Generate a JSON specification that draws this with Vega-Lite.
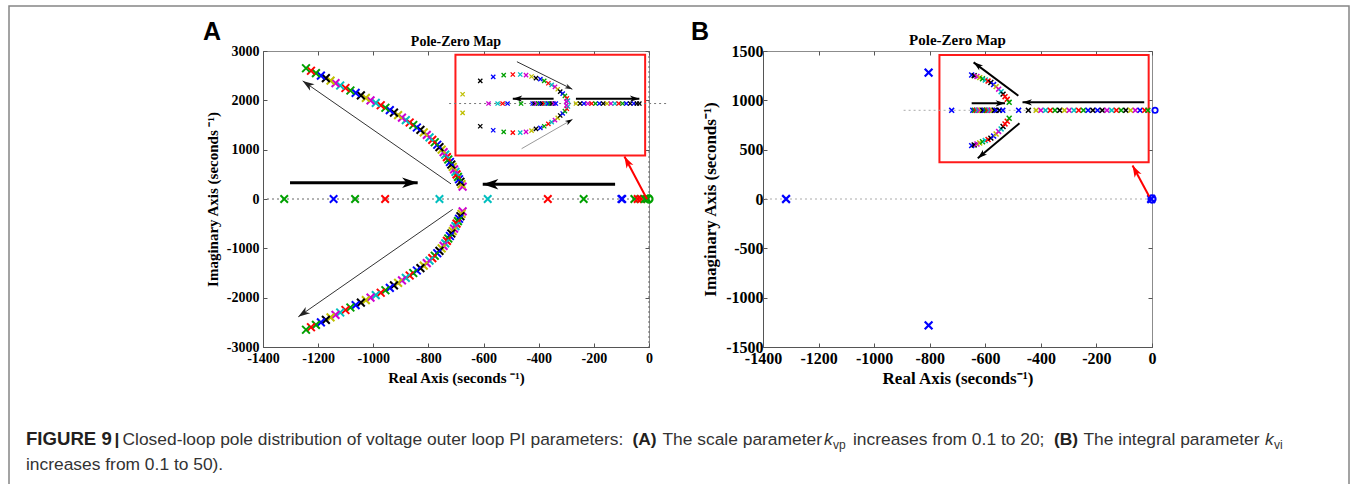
{
"$schema": "https://vega.github.io/schema/vega-lite/v6.json",
"autosize": {"type": "pad"},
"padding": {"left": 7, "top": 4, "right": 7, "bottom": 0},
"background": "white",
"config": {
  "view": {"stroke": "#8c8c8c", "strokeWidth": 1},
  "axis": {"labelFont": "Liberation Serif", "labelFontWeight": "bold", "labelColor": "#000", "titleFont": "Liberation Serif", "titleFontWeight": "bold", "titleColor": "#000", "domainColor": "#555", "tickColor": "#555", "grid": false, "labelFlush": false, "labelOverlap": false, "labelBound": false, "labelExpr": "'' + datum.value"}
},
"datasets": {
  "brA": [
    {"x":-676,"y":250,"c":"m"},{"x":-680,"y":300,"c":"y"},{"x":-684,"y":350,"c":"k"},{"x":-689,"y":400,"c":"b"},{"x":-693,"y":450,"c":"g"},{"x":-698,"y":500,"c":"r"},{"x":-702,"y":550,"c":"c"},{"x":-707,"y":600,"c":"m"},{"x":-712,"y":650,"c":"y"},{"x":-717,"y":700,"c":"k"},{"x":-722,"y":750,"c":"b"},{"x":-728,"y":800,"c":"g"},{"x":-733,"y":850,"c":"r"},{"x":-739,"y":900,"c":"c"},{"x":-745,"y":950,"c":"m"},{"x":-752,"y":1000,"c":"y"},{"x":-760,"y":1050,"c":"k"},{"x":-768,"y":1100,"c":"b"},{"x":-777,"y":1150,"c":"g"},{"x":-786,"y":1200,"c":"r"},{"x":-796,"y":1250,"c":"c"},{"x":-806,"y":1300,"c":"m"},{"x":-817,"y":1350,"c":"y"},{"x":-829,"y":1400,"c":"k"},{"x":-842,"y":1450,"c":"b"},{"x":-855,"y":1500,"c":"g"},{"x":-868,"y":1550,"c":"r"},{"x":-882,"y":1600,"c":"c"},{"x":-896,"y":1650,"c":"m"},{"x":-910,"y":1700,"c":"y"},{"x":-925,"y":1750,"c":"k"},{"x":-940,"y":1800,"c":"b"},{"x":-956,"y":1850,"c":"g"},{"x":-973,"y":1900,"c":"r"},{"x":-991,"y":1950,"c":"c"},{"x":-1010,"y":2000,"c":"m"},{"x":-1027,"y":2050,"c":"y"},{"x":-1045,"y":2100,"c":"k"},{"x":-1064,"y":2150,"c":"b"},{"x":-1083,"y":2200,"c":"g"},{"x":-1101,"y":2250,"c":"r"},{"x":-1120,"y":2300,"c":"c"},{"x":-1137,"y":2350,"c":"m"},{"x":-1155,"y":2400,"c":"y"},{"x":-1172,"y":2450,"c":"k"},{"x":-1190,"y":2500,"c":"b"},{"x":-1208,"y":2550,"c":"g"},{"x":-1226,"y":2600,"c":"r"},{"x":-1244,"y":2650,"c":"g"},
    {"x":-676,"y":-250,"c":"m"},{"x":-680,"y":-300,"c":"y"},{"x":-684,"y":-350,"c":"k"},{"x":-689,"y":-400,"c":"b"},{"x":-693,"y":-450,"c":"g"},{"x":-698,"y":-500,"c":"r"},{"x":-702,"y":-550,"c":"c"},{"x":-707,"y":-600,"c":"m"},{"x":-712,"y":-650,"c":"y"},{"x":-717,"y":-700,"c":"k"},{"x":-722,"y":-750,"c":"b"},{"x":-728,"y":-800,"c":"g"},{"x":-733,"y":-850,"c":"r"},{"x":-739,"y":-900,"c":"c"},{"x":-745,"y":-950,"c":"m"},{"x":-752,"y":-1000,"c":"y"},{"x":-760,"y":-1050,"c":"k"},{"x":-768,"y":-1100,"c":"b"},{"x":-777,"y":-1150,"c":"g"},{"x":-786,"y":-1200,"c":"r"},{"x":-796,"y":-1250,"c":"c"},{"x":-806,"y":-1300,"c":"m"},{"x":-817,"y":-1350,"c":"y"},{"x":-829,"y":-1400,"c":"k"},{"x":-842,"y":-1450,"c":"b"},{"x":-855,"y":-1500,"c":"g"},{"x":-868,"y":-1550,"c":"r"},{"x":-882,"y":-1600,"c":"c"},{"x":-896,"y":-1650,"c":"m"},{"x":-910,"y":-1700,"c":"y"},{"x":-925,"y":-1750,"c":"k"},{"x":-940,"y":-1800,"c":"b"},{"x":-956,"y":-1850,"c":"g"},{"x":-973,"y":-1900,"c":"r"},{"x":-991,"y":-1950,"c":"c"},{"x":-1010,"y":-2000,"c":"m"},{"x":-1027,"y":-2050,"c":"y"},{"x":-1045,"y":-2100,"c":"k"},{"x":-1064,"y":-2150,"c":"b"},{"x":-1083,"y":-2200,"c":"g"},{"x":-1101,"y":-2250,"c":"r"},{"x":-1120,"y":-2300,"c":"c"},{"x":-1137,"y":-2350,"c":"m"},{"x":-1155,"y":-2400,"c":"y"},{"x":-1172,"y":-2450,"c":"k"},{"x":-1190,"y":-2500,"c":"b"},{"x":-1208,"y":-2550,"c":"g"},{"x":-1226,"y":-2600,"c":"r"},{"x":-1244,"y":-2650,"c":"g"}
  ],
  "realA": [
    {"x":-1323,"y":0,"c":"g"},{"x":-1144,"y":0,"c":"b"},{"x":-1066,"y":0,"c":"g"},{"x":-957,"y":0,"c":"r"},{"x":-760,"y":0,"c":"c"},{"x":-585,"y":0,"c":"c"},{"x":-367,"y":0,"c":"r"},{"x":-237,"y":0,"c":"g"},{"x":-100,"y":0,"c":"b"},{"x":-97,"y":0,"c":"b"},{"x":-53,"y":0,"c":"g"},{"x":-41,"y":0,"c":"r"},{"x":-29,"y":0,"c":"r"},{"x":-15,"y":0,"c":"g"},{"x":-6,"y":0,"c":"g"}
  ],
  "zeroA": [{"x":0,"y":0,"c":"g"}],
  "inA": [
    {"x":-676,"y":2123,"c":"y"},{"x":-676,"y":1747,"c":"y"},
    {"x":-612,"y":2395,"c":"k"},{"x":-612,"y":1475,"c":"k"},
    {"x":-565,"y":2476,"c":"b"},{"x":-565,"y":1394,"c":"b"},
    {"x":-527,"y":2510,"c":"g"},{"x":-527,"y":1360,"c":"g"},
    {"x":-494,"y":2524,"c":"r"},{"x":-494,"y":1346,"c":"r"},
    {"x":-467,"y":2524,"c":"c"},{"x":-467,"y":1346,"c":"c"},
    {"x":-446,"y":2510,"c":"m"},{"x":-446,"y":1360,"c":"m"},
    {"x":-426,"y":2483,"c":"y"},{"x":-426,"y":1387,"c":"y"},
    {"x":-410,"y":2449,"c":"k"},{"x":-410,"y":1421,"c":"k"},
    {"x":-394,"y":2429,"c":"b"},{"x":-394,"y":1441,"c":"b"},
    {"x":-380,"y":2395,"c":"g"},{"x":-380,"y":1475,"c":"g"},
    {"x":-365,"y":2347,"c":"r"},{"x":-365,"y":1523,"c":"r"},
    {"x":-353,"y":2313,"c":"c"},{"x":-353,"y":1557,"c":"c"},
    {"x":-341,"y":2272,"c":"m"},{"x":-341,"y":1598,"c":"m"},
    {"x":-331,"y":2225,"c":"y"},{"x":-331,"y":1645,"c":"y"},
    {"x":-322,"y":2177,"c":"k"},{"x":-322,"y":1693,"c":"k"},
    {"x":-313,"y":2136,"c":"b"},{"x":-313,"y":1734,"c":"b"},
    {"x":-305,"y":2089,"c":"g"},{"x":-305,"y":1781,"c":"g"},
    {"x":-298,"y":2041,"c":"r"},{"x":-298,"y":1829,"c":"r"},
    {"x":-294,"y":1995,"c":"c"},{"x":-294,"y":1875,"c":"c"},
    {"x":-300,"y":1975,"c":"m"},{"x":-300,"y":1895,"c":"m"},
    {"x":-582,"y":1935,"c":"m"},{"x":-549,"y":1935,"c":"c"},{"x":-531,"y":1935,"c":"r"},{"x":-513,"y":1935,"c":"b"},{"x":-464,"y":1935,"c":"g"},
    {"x":-422,"y":1935,"c":"b"},{"x":-415,"y":1935,"c":"k"},{"x":-408,"y":1935,"c":"m"},{"x":-401,"y":1935,"c":"g"},{"x":-394,"y":1935,"c":"b"},{"x":-387,"y":1935,"c":"k"},{"x":-380,"y":1935,"c":"r"},{"x":-373,"y":1935,"c":"c"},{"x":-366,"y":1935,"c":"b"},{"x":-359,"y":1935,"c":"g"},{"x":-352,"y":1935,"c":"k"},{"x":-345,"y":1935,"c":"m"},{"x":-338,"y":1935,"c":"b"},
    {"x":-265,"y":1935,"c":"y"},{"x":-250,"y":1935,"c":"k"},{"x":-236,"y":1935,"c":"b"},{"x":-222,"y":1935,"c":"m"},{"x":-208,"y":1935,"c":"r"},{"x":-194,"y":1935,"c":"g"},{"x":-180,"y":1935,"c":"b"},{"x":-166,"y":1935,"c":"k"},{"x":-152,"y":1935,"c":"y"},{"x":-138,"y":1935,"c":"m"},{"x":-124,"y":1935,"c":"c"},{"x":-110,"y":1935,"c":"r"},{"x":-96,"y":1935,"c":"g"},{"x":-82,"y":1935,"c":"b"},{"x":-68,"y":1935,"c":"k"},{"x":-55,"y":1935,"c":"b"},{"x":-44,"y":1935,"c":"k"},{"x":-35,"y":1935,"c":"k"}
  ],
  "arrA": [
    {"x":-718,"y":306,"x2":-1256,"y2":2394,"dir":304.6,"k":"thin"},
    {"x":-712,"y":-210,"x2":-1272,"y2":-2388,"dir":235.4,"k":"thin"},
    {"x":-1302,"y":330,"x2":-839,"y2":330,"dir":90,"k":"thick"},
    {"x":-123,"y":300,"x2":-603,"y2":300,"dir":270,"k":"thick"},
    {"x":-7,"y":-6,"x2":-89,"y2":863,"dir":332,"k":"red"},
    {"x":-479,"y":2783,"x2":-278,"y2":2225,"dir":116.2,"k":"ithin"},
    {"x":-462,"y":1020,"x2":-277,"y2":1615,"dir":60.2,"k":"igray"},
    {"x":-346,"y":2034,"x2":-494,"y2":2034,"dir":270,"k":"ithick"},
    {"x":-265,"y":2034,"x2":-35,"y2":2034,"dir":90,"k":"ithick"}
  ],
  "mainB": [{"x":-1317,"y":0,"c":"b"},{"x":-804,"y":1280,"c":"b"},{"x":-804,"y":-1280,"c":"b"},{"x":-3,"y":0,"c":"b"}],
  "zeroB": [{"x":0,"y":0,"c":"b"}],
  "inBz": [{"x":11,"y":899,"c":"b"}],
  "inB": [
    {"x":-649,"y":1257,"c":"b"},{"x":-649,"y":541,"c":"b"},
    {"x":-640,"y":1250,"c":"k"},{"x":-640,"y":548,"c":"k"},
    {"x":-630,"y":1241,"c":"m"},{"x":-630,"y":557,"c":"m"},
    {"x":-620,"y":1230,"c":"y"},{"x":-620,"y":568,"c":"y"},
    {"x":-610,"y":1218,"c":"g"},{"x":-610,"y":580,"c":"g"},
    {"x":-600,"y":1206,"c":"c"},{"x":-600,"y":592,"c":"c"},
    {"x":-590,"y":1195,"c":"r"},{"x":-590,"y":603,"c":"r"},
    {"x":-580,"y":1181,"c":"k"},{"x":-580,"y":617,"c":"k"},
    {"x":-570,"y":1160,"c":"b"},{"x":-570,"y":638,"c":"b"},
    {"x":-561,"y":1139,"c":"y"},{"x":-561,"y":659,"c":"y"},
    {"x":-552,"y":1113,"c":"m"},{"x":-552,"y":685,"c":"m"},
    {"x":-543,"y":1088,"c":"c"},{"x":-543,"y":710,"c":"c"},
    {"x":-536,"y":1063,"c":"k"},{"x":-536,"y":735,"c":"k"},
    {"x":-529,"y":1037,"c":"r"},{"x":-529,"y":761,"c":"r"},
    {"x":-521,"y":1010,"c":"r"},{"x":-521,"y":788,"c":"r"},
    {"x":-514,"y":980,"c":"g"},{"x":-514,"y":818,"c":"g"},
    {"x":-721,"y":899,"c":"b"},
    {"x":-645,"y":899,"c":"b"},{"x":-639,"y":899,"c":"g"},{"x":-633,"y":899,"c":"r"},{"x":-627,"y":899,"c":"c"},{"x":-621,"y":899,"c":"m"},{"x":-615,"y":899,"c":"y"},{"x":-609,"y":899,"c":"k"},{"x":-603,"y":899,"c":"b"},{"x":-597,"y":899,"c":"g"},{"x":-591,"y":899,"c":"r"},{"x":-585,"y":899,"c":"c"},{"x":-579,"y":899,"c":"m"},{"x":-573,"y":899,"c":"y"},{"x":-567,"y":899,"c":"k"},{"x":-561,"y":899,"c":"b"},{"x":-549,"y":899,"c":"k"},{"x":-537,"y":899,"c":"b"},{"x":-480,"y":899,"c":"b"},{"x":-445,"y":899,"c":"k"},
    {"x":-417,"y":899,"c":"y"},{"x":-400,"y":899,"c":"m"},{"x":-383,"y":899,"c":"c"},{"x":-366,"y":899,"c":"r"},{"x":-349,"y":899,"c":"g"},{"x":-332,"y":899,"c":"k"},{"x":-315,"y":899,"c":"y"},{"x":-298,"y":899,"c":"m"},{"x":-281,"y":899,"c":"c"},{"x":-264,"y":899,"c":"r"},{"x":-247,"y":899,"c":"g"},{"x":-230,"y":899,"c":"b"},{"x":-213,"y":899,"c":"k"},{"x":-196,"y":899,"c":"b"},{"x":-179,"y":899,"c":"k"},{"x":-162,"y":899,"c":"m"},{"x":-145,"y":899,"c":"c"},{"x":-128,"y":899,"c":"r"},{"x":-111,"y":899,"c":"g"},{"x":-94,"y":899,"c":"k"},{"x":-77,"y":899,"c":"y"},{"x":-60,"y":899,"c":"m"},{"x":-43,"y":899,"c":"b"},{"x":-26,"y":899,"c":"r"},{"x":-15,"y":899,"c":"g"}
  ],
  "arrB": [
    {"x":-481,"y":1047,"x2":-642,"y2":1385,"dir":306.8,"k":"ithick"},
    {"x":-477,"y":767,"x2":-627,"y2":413,"dir":230,"k":"ithick"},
    {"x":-649,"y":970,"x2":-529,"y2":970,"dir":90,"k":"ithick"},
    {"x":-28,"y":980,"x2":-466,"y2":980,"dir":270,"k":"ithick"},
    {"x":-10,"y":25,"x2":-70,"y2":339,"dir":331.7,"k":"red"}
  ]
},
"hconcat": [
  {
    "width": 386, "height": 296,
    "layer": [
      {
        "data": {"values": [{}]},
        "layer": [
          {"mark": {"type": "rule", "strokeDash": [2, 3], "color": "#666", "strokeWidth": 1},
           "encoding": {"y": {"datum": 0, "type": "quantitative", "scale": {"domain": [-3000, 3000], "nice": false, "zero": false}, "axis": null}}},
          {"mark": {"type": "rule", "strokeDash": [2, 3], "color": "#666", "strokeWidth": 1},
           "encoding": {"x": {"datum": 0, "type": "quantitative", "scale": {"domain": [-1400, 0], "nice": false, "zero": false}, "axis": null}}},
          {"mark": {"type": "rect", "fill": "white", "stroke": "#ff1a1a", "strokeWidth": 2},
           "encoding": {"x": {"datum": -702, "type": "quantitative", "scale": {"domain": [-1400, 0], "nice": false, "zero": false}, "axis": null}, "x2": {"datum": -14},
                        "y": {"datum": 884, "type": "quantitative", "scale": {"domain": [-3000, 3000], "nice": false, "zero": false}, "axis": null}, "y2": {"datum": 2925}}},
          {"mark": {"type": "rule", "strokeDash": [2, 3], "color": "#777", "strokeWidth": 1, "clip": false},
           "encoding": {"x": {"datum": -725, "type": "quantitative", "scale": {"domain": [-1400, 0], "nice": false, "zero": false}, "axis": null}, "x2": {"datum": 62},
                        "y": {"datum": 1935, "type": "quantitative", "scale": {"domain": [-3000, 3000], "nice": false, "zero": false}, "axis": null}}},
          {"data": {"name": "inA"},
           "mark": {"type": "point", "shape": "M-1,-1L1,1M-1,1L1,-1", "filled": false, "size": 18, "strokeWidth": 1.3, "opacity": 1},
           "encoding": {"x": {"field": "x", "type": "quantitative", "scale": {"domain": [-1400, 0], "nice": false, "zero": false}, "axis": null},
                        "y": {"field": "y", "type": "quantitative", "scale": {"domain": [-3000, 3000], "nice": false, "zero": false}, "axis": null},
                        "stroke": {"field": "c", "type": "nominal", "scale": {"domain": ["b","g","r","c","m","y","k"], "range": ["#0000ff","#00a000","#ff0000","#00bfbf","#d000d0","#bfbf00","#000000"]}, "legend": null}}},
          {"data": {"name": "realA"},
           "mark": {"type": "point", "shape": "M-1,-1L1,1M-1,1L1,-1", "filled": false, "size": 56, "strokeWidth": 2, "opacity": 1},
           "encoding": {"x": {"field": "x", "type": "quantitative", "scale": {"domain": [-1400, 0], "nice": false, "zero": false},
                              "axis": {"orient": "top", "labels": false, "title": null, "domain": false, "tickSize": -4, "values": [-1400,-1200,-1000,-800,-600,-400,-200,0]}},
                        "y": {"field": "y", "type": "quantitative", "scale": {"domain": [-3000, 3000], "nice": false, "zero": false},
                              "axis": {"orient": "right", "labels": false, "title": null, "domain": false, "tickSize": -4, "values": [-3000,-2000,-1000,0,1000,2000,3000]}},
                        "stroke": {"field": "c", "type": "nominal", "legend": null}}},
          {"data": {"name": "brA"},
           "mark": {"type": "point", "shape": "M-1,-1L1,1M-1,1L1,-1", "filled": false, "size": 60, "strokeWidth": 2, "opacity": 1},
           "encoding": {"x": {"field": "x", "type": "quantitative", "scale": {"domain": [-1400, 0], "nice": false, "zero": false},
                              "axis": {"orient": "bottom", "values": [-1400,-1200,-1000,-800,-600,-400,-200,0], "title": "Real Axis (seconds ⁻¹)", "labelFontSize": 14, "titleFontSize": 15, "tickSize": -4, "labelPadding": 8, "titlePadding": 5}},
                        "y": {"field": "y", "type": "quantitative", "scale": {"domain": [-3000, 3000], "nice": false, "zero": false},
                              "axis": {"orient": "left", "values": [-3000,-2000,-1000,0,1000,2000,3000], "title": "Imaginary Axis (seconds ⁻¹)", "labelFontSize": 14, "titleFontSize": 15, "tickSize": -4, "labelPadding": 8, "titlePadding": 6}},
                        "stroke": {"field": "c", "type": "nominal", "legend": null}}},
          {"data": {"name": "zeroA"},
           "mark": {"type": "point", "shape": "circle", "filled": false, "size": 50, "strokeWidth": 2.2, "opacity": 1, "clip": false},
           "encoding": {"x": {"field": "x", "type": "quantitative", "scale": {"domain": [-1400, 0], "nice": false, "zero": false}, "axis": null},
                        "y": {"field": "y", "type": "quantitative", "scale": {"domain": [-3000, 3000], "nice": false, "zero": false}, "axis": null},
                        "stroke": {"field": "c", "type": "nominal", "legend": null}}},
          {"data": {"name": "arrA"},
           "mark": {"type": "rule", "clip": false},
           "encoding": {"x": {"field": "x", "type": "quantitative", "scale": {"domain": [-1400, 0], "nice": false, "zero": false}, "axis": null},
                        "y": {"field": "y", "type": "quantitative", "scale": {"domain": [-3000, 3000], "nice": false, "zero": false}, "axis": null},
                        "x2": {"field": "x2"}, "y2": {"field": "y2"},
                        "color": {"field": "k", "type": "nominal", "scale": {"domain": ["thin","thick","red","ithin","igray","ithick"], "range": ["#333333","#000000","#ff0000","#333333","#9a9a9a","#000000"]}, "legend": null},
                        "strokeWidth": {"field": "k", "type": "ordinal", "scale": {"type": "ordinal", "domain": ["thin","thick","red","ithin","igray","ithick"], "range": [1, 3, 2, 1, 1, 2]}, "legend": null}}},
          {"data": {"name": "arrA"},
           "mark": {"type": "point", "shape": "M0,0L-0.6,1.8L0,1.3L0.6,1.8Z", "filled": true, "opacity": 1, "clip": false},
           "encoding": {"x": {"field": "x2", "type": "quantitative", "scale": {"domain": [-1400, 0], "nice": false, "zero": false}, "axis": null},
                        "y": {"field": "y2", "type": "quantitative", "scale": {"domain": [-3000, 3000], "nice": false, "zero": false}, "axis": null},
                        "angle": {"field": "dir", "type": "quantitative", "scale": null},
                        "fill": {"field": "k", "type": "nominal", "scale": {"domain": ["thin","thick","red","ithin","igray","ithick"], "range": ["#222222","#000000","#ff0000","#222222","#000000","#000000"]}, "legend": null},
                        "size": {"field": "k", "type": "ordinal", "scale": {"type": "ordinal", "domain": ["thin","thick","red","ithin","igray","ithick"], "range": [170, 300, 170, 70, 70, 110]}, "legend": null}}},
          {"mark": {"type": "text", "text": "A", "font": "Liberation Sans", "fontSize": 25, "fontWeight": "bold", "align": "center", "baseline": "middle", "color": "#000", "clip": false},
           "encoding": {"x": {"datum": -1585, "type": "quantitative", "scale": {"domain": [-1400, 0], "nice": false, "zero": false}, "axis": null},
                        "y": {"datum": 3385, "type": "quantitative", "scale": {"domain": [-3000, 3000], "nice": false, "zero": false}, "axis": null}}},
          {"mark": {"type": "text", "text": "Pole-Zero Map", "font": "Liberation Serif", "fontSize": 14, "fontWeight": "bold", "align": "center", "baseline": "middle", "color": "#000", "clip": false},
           "encoding": {"x": {"datum": -700, "type": "quantitative", "scale": {"domain": [-1400, 0], "nice": false, "zero": false}, "axis": null},
                        "y": {"datum": 3180, "type": "quantitative", "scale": {"domain": [-3000, 3000], "nice": false, "zero": false}, "axis": null}}}
        ],
        "resolve": {"axis": {"x": "independent", "y": "independent"}}
      },
      {
        "data": {"values": [{}]},
        "layer": [
          {"mark": {"type": "rect", "filled": false, "stroke": "#858585", "strokeWidth": 1.5, "clip": false},
           "encoding": {"x": {"datum": 8, "type": "quantitative", "scale": {"domain": [262, 648], "nice": false, "zero": false}, "axis": null}, "x2": {"datum": 1348},
                        "y": {"datum": 5, "type": "quantitative", "scale": {"domain": [50, 346], "reverse": true, "nice": false, "zero": false}, "axis": null}, "y2": {"datum": 520}}},
          {"mark": {"type": "text", "text": "FIGURE 9", "font": "Liberation Sans", "fontSize": 18.6, "fontWeight": "bold", "align": "left", "baseline": "alphabetic", "color": "#231f20", "clip": false},
           "encoding": {"x": {"datum": 25, "type": "quantitative", "scale": {"domain": [262, 648], "nice": false, "zero": false}, "axis": null},
                        "y": {"datum": 444, "type": "quantitative", "scale": {"domain": [50, 346], "reverse": true, "nice": false, "zero": false}, "axis": null}}},
          {"mark": {"type": "text", "text": "|", "font": "Liberation Sans", "fontSize": 17.4, "fontWeight": "bold", "align": "left", "baseline": "alphabetic", "color": "#231f20", "clip": false},
           "encoding": {"x": {"datum": 113.5, "type": "quantitative", "scale": {"domain": [262, 648], "nice": false, "zero": false}, "axis": null},
                        "y": {"datum": 444, "type": "quantitative", "scale": {"domain": [50, 346], "reverse": true, "nice": false, "zero": false}, "axis": null}}},
          {"mark": {"type": "text", "text": "Closed-loop pole distribution of voltage outer loop PI parameters:", "font": "Liberation Sans", "fontSize": 17.4, "align": "left", "baseline": "alphabetic", "color": "#333", "clip": false},
           "encoding": {"x": {"datum": 121.5, "type": "quantitative", "scale": {"domain": [262, 648], "nice": false, "zero": false}, "axis": null},
                        "y": {"datum": 444, "type": "quantitative", "scale": {"domain": [50, 346], "reverse": true, "nice": false, "zero": false}, "axis": null}}},
          {"mark": {"type": "text", "text": "(A)", "font": "Liberation Sans", "fontSize": 17.4, "fontWeight": "bold", "align": "left", "baseline": "alphabetic", "color": "#231f20", "clip": false},
           "encoding": {"x": {"datum": 631.5, "type": "quantitative", "scale": {"domain": [262, 648], "nice": false, "zero": false}, "axis": null},
                        "y": {"datum": 444, "type": "quantitative", "scale": {"domain": [50, 346], "reverse": true, "nice": false, "zero": false}, "axis": null}}},
          {"mark": {"type": "text", "text": "The scale parameter", "font": "Liberation Sans", "fontSize": 17.4, "align": "left", "baseline": "alphabetic", "color": "#333", "clip": false},
           "encoding": {"x": {"datum": 661.5, "type": "quantitative", "scale": {"domain": [262, 648], "nice": false, "zero": false}, "axis": null},
                        "y": {"datum": 444, "type": "quantitative", "scale": {"domain": [50, 346], "reverse": true, "nice": false, "zero": false}, "axis": null}}},
          {"mark": {"type": "text", "text": "k", "font": "Liberation Sans", "fontSize": 17.4, "fontStyle": "italic", "align": "left", "baseline": "alphabetic", "color": "#333", "clip": false},
           "encoding": {"x": {"datum": 823, "type": "quantitative", "scale": {"domain": [262, 648], "nice": false, "zero": false}, "axis": null},
                        "y": {"datum": 444, "type": "quantitative", "scale": {"domain": [50, 346], "reverse": true, "nice": false, "zero": false}, "axis": null}}},
          {"mark": {"type": "text", "text": "vp", "font": "Liberation Sans", "fontSize": 12, "align": "left", "baseline": "alphabetic", "color": "#333", "clip": false},
           "encoding": {"x": {"datum": 832, "type": "quantitative", "scale": {"domain": [262, 648], "nice": false, "zero": false}, "axis": null},
                        "y": {"datum": 448, "type": "quantitative", "scale": {"domain": [50, 346], "reverse": true, "nice": false, "zero": false}, "axis": null}}},
          {"mark": {"type": "text", "text": "increases from 0.1 to 20;", "font": "Liberation Sans", "fontSize": 17.4, "align": "left", "baseline": "alphabetic", "color": "#333", "clip": false},
           "encoding": {"x": {"datum": 852, "type": "quantitative", "scale": {"domain": [262, 648], "nice": false, "zero": false}, "axis": null},
                        "y": {"datum": 444, "type": "quantitative", "scale": {"domain": [50, 346], "reverse": true, "nice": false, "zero": false}, "axis": null}}},
          {"mark": {"type": "text", "text": "(B)", "font": "Liberation Sans", "fontSize": 17.4, "fontWeight": "bold", "align": "left", "baseline": "alphabetic", "color": "#231f20", "clip": false},
           "encoding": {"x": {"datum": 1053, "type": "quantitative", "scale": {"domain": [262, 648], "nice": false, "zero": false}, "axis": null},
                        "y": {"datum": 444, "type": "quantitative", "scale": {"domain": [50, 346], "reverse": true, "nice": false, "zero": false}, "axis": null}}},
          {"mark": {"type": "text", "text": "The integral parameter", "font": "Liberation Sans", "fontSize": 17.4, "align": "left", "baseline": "alphabetic", "color": "#333", "clip": false},
           "encoding": {"x": {"datum": 1082.5, "type": "quantitative", "scale": {"domain": [262, 648], "nice": false, "zero": false}, "axis": null},
                        "y": {"datum": 444, "type": "quantitative", "scale": {"domain": [50, 346], "reverse": true, "nice": false, "zero": false}, "axis": null}}},
          {"mark": {"type": "text", "text": "k", "font": "Liberation Sans", "fontSize": 17.4, "fontStyle": "italic", "align": "left", "baseline": "alphabetic", "color": "#333", "clip": false},
           "encoding": {"x": {"datum": 1264, "type": "quantitative", "scale": {"domain": [262, 648], "nice": false, "zero": false}, "axis": null},
                        "y": {"datum": 444, "type": "quantitative", "scale": {"domain": [50, 346], "reverse": true, "nice": false, "zero": false}, "axis": null}}},
          {"mark": {"type": "text", "text": "vi", "font": "Liberation Sans", "fontSize": 12, "align": "left", "baseline": "alphabetic", "color": "#333", "clip": false},
           "encoding": {"x": {"datum": 1273, "type": "quantitative", "scale": {"domain": [262, 648], "nice": false, "zero": false}, "axis": null},
                        "y": {"datum": 448, "type": "quantitative", "scale": {"domain": [50, 346], "reverse": true, "nice": false, "zero": false}, "axis": null}}},
          {"mark": {"type": "text", "text": "increases from 0.1 to 50).", "font": "Liberation Sans", "fontSize": 17.4, "align": "left", "baseline": "alphabetic", "color": "#333", "clip": false},
           "encoding": {"x": {"datum": 25, "type": "quantitative", "scale": {"domain": [262, 648], "nice": false, "zero": false}, "axis": null},
                        "y": {"datum": 469, "type": "quantitative", "scale": {"domain": [50, 346], "reverse": true, "nice": false, "zero": false}, "axis": null}}}
        ]
      }
    ],
    "resolve": {"scale": {"x": "independent", "y": "independent"}}
  },
  {
    "width": 389, "height": 296,
    "data": {"values": [{}]},
    "layer": [
      {"mark": {"type": "rule", "strokeDash": [2, 3], "color": "#aaa", "strokeWidth": 1},
       "encoding": {"y": {"datum": 0, "type": "quantitative", "scale": {"domain": [-1500, 1500], "nice": false, "zero": false}, "axis": null}}},
      {"mark": {"type": "rect", "fill": "white", "stroke": "#ff1a1a", "strokeWidth": 2},
       "encoding": {"x": {"datum": -765, "type": "quantitative", "scale": {"domain": [-1400, 0], "nice": false, "zero": false}, "axis": null}, "x2": {"datum": -12},
                    "y": {"datum": 372, "type": "quantitative", "scale": {"domain": [-1500, 1500], "nice": false, "zero": false}, "axis": null}, "y2": {"datum": 1459}}},
      {"mark": {"type": "rule", "strokeDash": [2, 3], "color": "#aaa", "strokeWidth": 1, "clip": false},
       "encoding": {"x": {"datum": -894, "type": "quantitative", "scale": {"domain": [-1400, 0], "nice": false, "zero": false}, "axis": null}, "x2": {"datum": 8},
                    "y": {"datum": 899, "type": "quantitative", "scale": {"domain": [-1500, 1500], "nice": false, "zero": false}, "axis": null}}},
      {"data": {"name": "inB"},
       "mark": {"type": "point", "shape": "M-1,-1L1,1M-1,1L1,-1", "filled": false, "size": 24, "strokeWidth": 1.5, "opacity": 1},
       "encoding": {"x": {"field": "x", "type": "quantitative", "scale": {"domain": [-1400, 0], "nice": false, "zero": false}, "axis": null},
                    "y": {"field": "y", "type": "quantitative", "scale": {"domain": [-1500, 1500], "nice": false, "zero": false}, "axis": null},
                    "stroke": {"field": "c", "type": "nominal", "legend": null}}},
      {"data": {"name": "inBz"},
       "mark": {"type": "point", "shape": "circle", "filled": false, "size": 28, "strokeWidth": 1.8, "opacity": 1, "clip": false},
       "encoding": {"x": {"field": "x", "type": "quantitative", "scale": {"domain": [-1400, 0], "nice": false, "zero": false}, "axis": null},
                    "y": {"field": "y", "type": "quantitative", "scale": {"domain": [-1500, 1500], "nice": false, "zero": false}, "axis": null},
                    "stroke": {"field": "c", "type": "nominal", "legend": null}}},
      {"data": {"name": "mainB"},
       "mark": {"type": "point", "shape": "M-1,-1L1,1M-1,1L1,-1", "filled": false, "size": 60, "strokeWidth": 2.2, "opacity": 1},
       "encoding": {"x": {"field": "x", "type": "quantitative", "scale": {"domain": [-1400, 0], "nice": false, "zero": false},
                          "axis": {"orient": "bottom", "values": [-1400,-1200,-1000,-800,-600,-400,-200,0], "title": "Real Axis (seconds⁻¹)", "labelFontSize": 16, "titleFontSize": 17, "tickSize": -4, "labelPadding": 7, "titlePadding": 4}},
                    "y": {"field": "y", "type": "quantitative", "scale": {"domain": [-1500, 1500], "nice": false, "zero": false},
                          "axis": {"orient": "left", "values": [-1500,-1000,-500,0,500,1000,1500], "title": "Imaginary Axis (seconds⁻¹)", "labelFontSize": 16, "titleFontSize": 17, "tickSize": -4, "labelPadding": 4, "titlePadding": 6}},
                    "stroke": {"field": "c", "type": "nominal", "legend": null}}},
      {"data": {"name": "zeroB"},
       "mark": {"type": "point", "shape": "circle", "filled": false, "size": 50, "strokeWidth": 2.2, "opacity": 1, "clip": false},
       "encoding": {"x": {"field": "x", "type": "quantitative", "scale": {"domain": [-1400, 0], "nice": false, "zero": false},
                          "axis": {"orient": "top", "labels": false, "title": null, "domain": false, "tickSize": -4, "values": [-1400,-1200,-1000,-800,-600,-400,-200,0]}},
                    "y": {"field": "y", "type": "quantitative", "scale": {"domain": [-1500, 1500], "nice": false, "zero": false},
                          "axis": {"orient": "right", "labels": false, "title": null, "domain": false, "tickSize": -4, "values": [-1500,-1000,-500,0,500,1000,1500]}},
                    "stroke": {"field": "c", "type": "nominal", "legend": null}}},
      {"data": {"name": "arrB"},
       "mark": {"type": "rule", "clip": false},
       "encoding": {"x": {"field": "x", "type": "quantitative", "scale": {"domain": [-1400, 0], "nice": false, "zero": false}, "axis": null},
                    "y": {"field": "y", "type": "quantitative", "scale": {"domain": [-1500, 1500], "nice": false, "zero": false}, "axis": null},
                    "x2": {"field": "x2"}, "y2": {"field": "y2"},
                    "color": {"field": "k", "type": "nominal", "legend": null},
                    "strokeWidth": {"field": "k", "type": "ordinal", "scale": {"type": "ordinal", "domain": ["thin","thick","red","ithin","igray","ithick"], "range": [1, 3, 2, 1, 1, 2]}, "legend": null}}},
      {"data": {"name": "arrB"},
       "mark": {"type": "point", "shape": "M0,0L-0.6,1.8L0,1.3L0.6,1.8Z", "filled": true, "opacity": 1, "clip": false},
       "encoding": {"x": {"field": "x2", "type": "quantitative", "scale": {"domain": [-1400, 0], "nice": false, "zero": false}, "axis": null},
                    "y": {"field": "y2", "type": "quantitative", "scale": {"domain": [-1500, 1500], "nice": false, "zero": false}, "axis": null},
                    "angle": {"field": "dir", "type": "quantitative", "scale": null},
                    "fill": {"field": "k", "type": "nominal", "legend": null},
                    "size": {"field": "k", "type": "ordinal", "scale": {"type": "ordinal", "domain": ["thin","thick","red","ithin","igray","ithick"], "range": [170, 300, 170, 70, 70, 110]}, "legend": null}}},
      {"mark": {"type": "text", "text": "B", "font": "Liberation Sans", "fontSize": 25, "fontWeight": "bold", "align": "center", "baseline": "middle", "color": "#000", "clip": false},
       "encoding": {"x": {"datum": -1627, "type": "quantitative", "scale": {"domain": [-1400, 0], "nice": false, "zero": false}, "axis": null},
                    "y": {"datum": 1693, "type": "quantitative", "scale": {"domain": [-1500, 1500], "nice": false, "zero": false}, "axis": null}}},
      {"mark": {"type": "text", "text": "Pole-Zero Map", "font": "Liberation Serif", "fontSize": 15, "fontWeight": "bold", "align": "center", "baseline": "middle", "color": "#000", "clip": false},
       "encoding": {"x": {"datum": -700, "type": "quantitative", "scale": {"domain": [-1400, 0], "nice": false, "zero": false}, "axis": null},
                    "y": {"datum": 1611, "type": "quantitative", "scale": {"domain": [-1500, 1500], "nice": false, "zero": false}, "axis": null}}}
    ],
    "resolve": {"axis": {"x": "independent", "y": "independent"}}
  }
],
"spacing": 114,
"bounds": "flush"
}
